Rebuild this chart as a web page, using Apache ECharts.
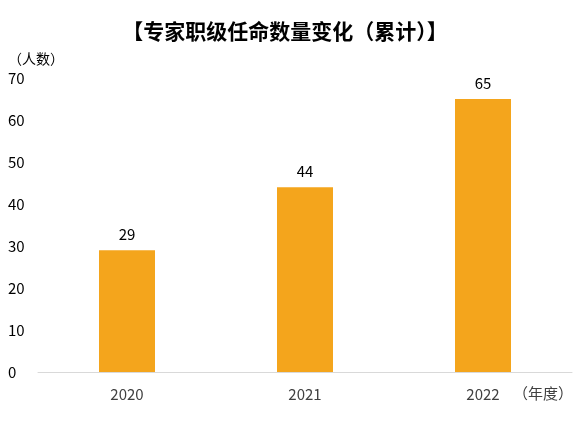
<!DOCTYPE html>
<html><head><meta charset="utf-8">
<script src="https://cdn.jsdelivr.net/npm/echarts@6/dist/echarts.min.js"></script>
<style>html,body{margin:0;padding:0;background:#fff}#c{width:586px;height:423px}</style>
</head><body><div id="c"></div>
<script>
const categories = ['2020', '2021', '2022'];
const values = [29, 44, 65];
const yTicks = {min: 0, max: 70, interval: 10};
const titleText = '【专家职级任命数量变化（累计）】';
const yName = '（人数）';
const xName = '（年度）';
const font = '"Noto Sans CJK SC", "Noto Sans", sans-serif';
const chart = echarts.init(document.getElementById('c'));
chart.setOption({
  animation: false,
  title: {text: titleText, left: 280, textAlign: 'center', top: 16,
    textStyle: {fontSize: 21, fontWeight: 'bold', color: '#000', fontFamily: font}},
  grid: {left: 38, right: 14, top: 78, bottom: 51},
  xAxis: {type: 'category', data: categories,
    name: xName, nameLocation: 'end', nameGap: -59,
    nameTextStyle: {fontSize: 15, color: '#404040', fontFamily: font, verticalAlign: 'top', padding: [14, 0, 0, 0]},
    axisLine: {lineStyle: {color: '#d9d9d9', width: 1}},
    axisTick: {show: false},
    axisLabel: {fontSize: 15, color: '#404040', margin: 15, fontFamily: font}},
  yAxis: {type: 'value', min: yTicks.min, max: yTicks.max, interval: yTicks.interval,
    name: yName, nameLocation: 'end', nameGap: 12,
    nameTextStyle: {fontSize: 14, color: '#000', fontFamily: font, align: 'left', padding: [0, 0, 0, -30]},
    splitLine: {show: false}, axisLine: {show: false}, axisTick: {show: false},
    axisLabel: {fontSize: 15, color: '#000', align: 'left', margin: 30, fontFamily: font}},
  series: [{type: 'bar', data: values, barWidth: 56,
    itemStyle: {color: '#F4A51C'},
    label: {show: true, position: 'top', distance: 8, fontSize: 15, color: '#000', fontFamily: font}}]
});
</script></body></html>
